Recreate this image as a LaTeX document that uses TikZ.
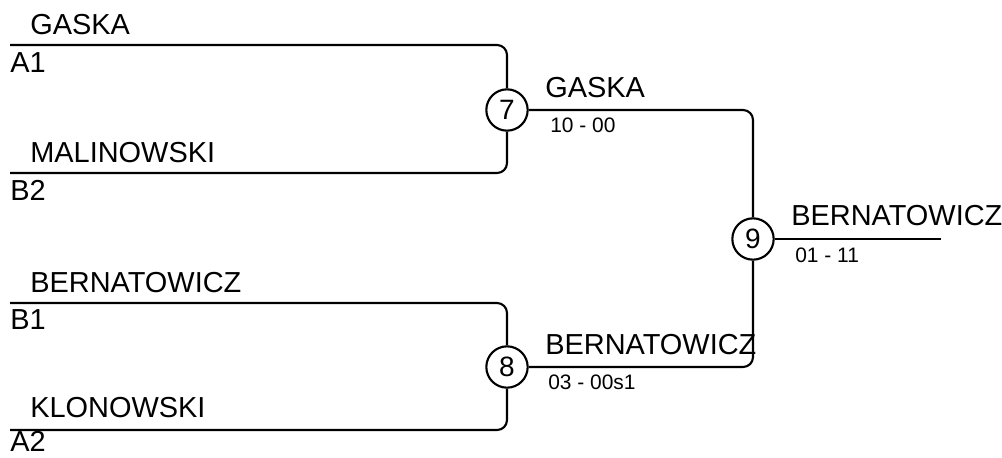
\documentclass[tikz,border=0pt]{standalone}
\usepackage{fontspec}
\setmainfont{Liberation Sans}
\usetikzlibrary{positioning}
\tikzset{
  match/.style={draw, circle, line width=1.6pt, minimum size=31pt, inner sep=0pt,
    font=\fontsize{21}{21}\selectfont},
  player/.style={anchor=base west, inner sep=0pt, font=\fontsize{21.7}{22}\selectfont},
  score/.style={anchor=base west, inner sep=0pt, font=\fontsize{15.7}{16}\selectfont},
  wire/.style={line width=1.6pt, rounded corners=7.5pt}
}

\begin{document}
\begin{tikzpicture}[x=0.75pt, y=-0.75pt]
  \useasboundingbox (0,0) rectangle (1002,457);

  % matches
  \node[match] (m7) at (507,110) {7};
  \node[match] (m8) at (507,367) {8};
  \node[match] (m9) at (753,239) {9};

  % line ends
  \coordinate (a1) at (10,45);
  \coordinate (b2) at (10,173);
  \coordinate (b1) at (10,303);
  \coordinate (a2) at (10,430);
  \coordinate (win) at (941,239);

  \draw[wire] (a1) -| (m7);
  \draw[wire] (b2) -| (m7);
  \draw[wire] (b1) -| (m8);
  \draw[wire] (a2) -| (m8);
  \draw[wire] (m7) -| (m9);
  \draw[wire] (m8) -| (m9);
  \draw[wire] (m9) -- (win);

  % first round
  \node[player] (nA1) at (30,34) {GASKA};
  \node[player] (sA1) at (10,72) {A1};
  \node[player] (nB2) at (30,162) {MALINOWSKI};
  \node[player] (sB2) at (10,200) {B2};
  \node[player] (nB1) at (30,292) {BERNATOWICZ};
  \node[player] (sB1) at (10,329) {B1};
  \node[player] (nA2) at (30,417) {KLONOWSKI};
  \node[player] (sA2) at (10,451) {A2};

  % winners and scores
  \node[player] (w7) at (545,97) {GASKA};
  \node[score] (r7) at (550,132) {10 - 00};
  \node[player] (w8) at (545,354) {BERNATOWICZ};
  \node[score] (r8) at (548,389) {03 - 00s1};
  \node[player] (w9) at (791,225) {BERNATOWICZ};
  \node[score] (r9) at (795,262) {01 - 11};
\end{tikzpicture}
\end{document}
